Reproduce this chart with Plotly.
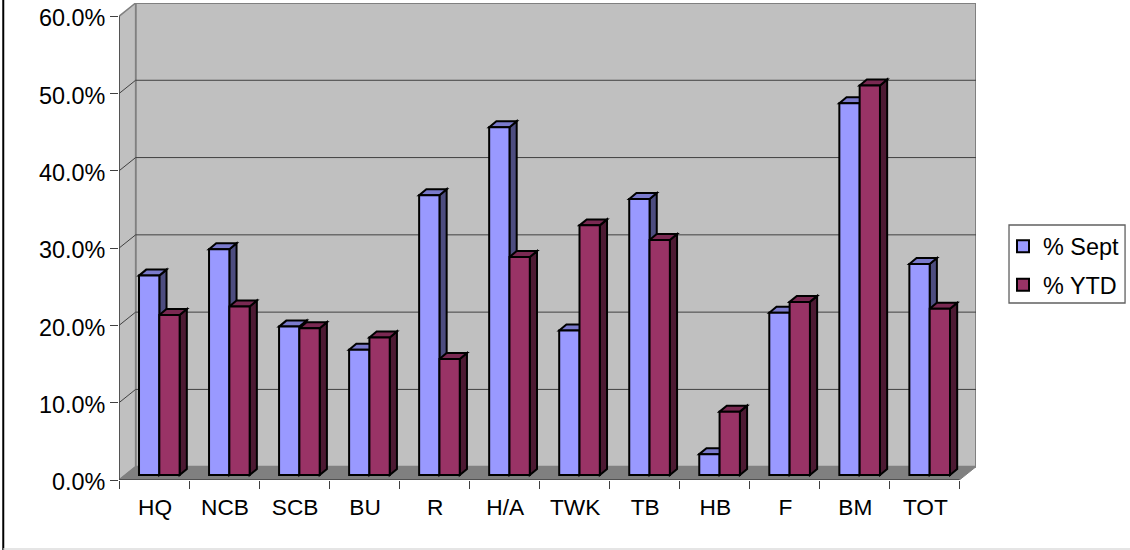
import plotly.graph_objects as go

categories = ["HQ", "NCB", "SCB", "BU", "R", "H/A", "TWK", "TB", "HB", "F", "BM", "TOT"]
pct_sept = [25.8, 29.2, 19.2, 16.2, 36.2, 45.0, 18.7, 35.7, 2.7, 21.0, 48.1, 27.3]
pct_ytd = [20.7, 21.8, 19.0, 17.8, 15.0, 28.2, 32.3, 30.4, 8.2, 22.4, 50.4, 21.5]
y_ticks = [0, 10, 20, 30, 40, 50, 60]
y_labels = ["0.0%", "10.0%", "20.0%", "30.0%", "40.0%", "50.0%", "60.0%"]

W, H = 1130, 550
L, R, T, B = 119.3, 154, 3, 70
PX_X = 70.0                 # pixels per category
PX_Y = (480 - 16) / 60.0    # pixels per percent
WALL_DX = 16.6 / PX_X
WALL_DY = 13.3 / PX_Y
BAR_W = 20.3 / PX_X
BAR_OFF = -15.0 / PX_X
BAR_DX = 7.2 / PX_X
BAR_DY = 6.0 / PX_Y
BASE = 5.0 / PX_Y

X0, X1 = -0.5, len(categories) - 0.5
Y_MAX = 60


def poly(pts, fill, line="#000000", width=2):
    path = "M" + " L".join(f"{x},{y}" for x, y in pts) + " Z"
    return dict(type="path", path=path, xref="x", yref="y", layer="below",
                fillcolor=fill, line=dict(color=line, width=width))


def seg(x0, y0, x1, y1, color="#404040", width=1.0):
    return dict(type="line", x0=x0, y0=y0, x1=x1, y1=y1, xref="x", yref="y",
                layer="below", line=dict(color=color, width=width))


shapes = []
# walls and floor
shapes.append(poly([(X0 + WALL_DX, WALL_DY), (X1 + WALL_DX, WALL_DY),
                    (X1 + WALL_DX, Y_MAX + WALL_DY), (X0 + WALL_DX, Y_MAX + WALL_DY)],
                   "#C0C0C0", "#808080", 2))
shapes.append(poly([(X0, 0), (X0 + WALL_DX, WALL_DY), (X0 + WALL_DX, Y_MAX + WALL_DY), (X0, Y_MAX)],
                   "#C0C0C0", "#808080", 1.5))
shapes.append(poly([(X0, 0), (X0 + WALL_DX, WALL_DY), (X1 + WALL_DX, WALL_DY), (X1, 0)],
                   "#808080", "#808080", 1))
# gridlines
for t in y_ticks[1:-1]:
    shapes.append(seg(X0, t, X0 + WALL_DX, t + WALL_DY))
    shapes.append(seg(X0 + WALL_DX, t + WALL_DY, X1 + WALL_DX, t + WALL_DY))
# bar side and top faces
for i, (a, b) in enumerate(zip(pct_sept, pct_ytd)):
    for j, (v, top, side) in enumerate([(a, "#7A7ACC", "#4D4D80"), (b, "#7A2952", "#4D1A33")]):
        x_l = i + BAR_OFF + j * BAR_W
        x_r = x_l + BAR_W
        y_t = BASE + v
        shapes.append(poly([(x_r, BASE), (x_r + BAR_DX, BASE + BAR_DY),
                            (x_r + BAR_DX, y_t + BAR_DY), (x_r, y_t)], side))
        shapes.append(poly([(x_l, y_t), (x_l + BAR_DX, y_t + BAR_DY),
                            (x_r + BAR_DX, y_t + BAR_DY), (x_r, y_t)], top))
# front axis lines
shapes.append(seg(X0, 0, X0, Y_MAX, "#404040", 1.5))
shapes.append(seg(X0, 0, X1, 0, "#404040", 1.5))
# outer frame
pw = W - L - R
ph = H - T - B
shapes.append(dict(type="line", xref="paper", yref="paper",
                   x0=(3.6 - L) / pw, x1=(3.6 - L) / pw, y0=-B / ph, y1=1 + T / ph,
                   line=dict(color="#000000", width=2)))
shapes.append(dict(type="line", xref="paper", yref="paper",
                   x0=(3.6 - L) / pw, x1=(W - L) / pw, y0=(480 - 549) / ph, y1=(480 - 549) / ph,
                   line=dict(color="#DDDDDD", width=1.5)))
# legend frame
shapes.append(dict(type="rect", xref="paper", yref="paper", layer="below",
                   x0=(1009 - L) / pw, x1=(1125 - L) / pw, y0=(480 - 303) / ph, y1=(480 - 225) / ph,
                   fillcolor="#FFFFFF", line=dict(color="#606060", width=1.3)))

fig = go.Figure()
for name, vals, col, off in [("% Sept", pct_sept, "#9999FF", BAR_OFF),
                             ("% YTD", pct_ytd, "#993366", BAR_OFF + BAR_W)]:
    fig.add_trace(go.Bar(name=name, x=categories, y=vals, base=BASE, width=BAR_W, offset=off,
                         legendgroup=name, marker=dict(color=col, line=dict(color="#000000", width=2))))

FAMILY = "Liberation Sans, Arial, sans-serif"
x_font = dict(family=FAMILY, size=22.7, color="#000000")
y_font = dict(family=FAMILY, size=23.4, color="#000000")
leg_font = dict(family=FAMILY, size=23.4, color="#000000")
fig.update_layout(
    width=W, height=H, margin=dict(l=L, r=R, t=T, b=B, pad=0, autoexpand=False),
    paper_bgcolor="#FFFFFF", plot_bgcolor="rgba(0,0,0,0)", barmode="overlay", font=x_font,
    shapes=shapes,
    xaxis=dict(type="category", categoryorder="array", categoryarray=categories,
               range=[X0, X1 + WALL_DX], tickson="boundaries", ticks="outside", ticklen=8,
               tickwidth=1, tickcolor="#404040", showgrid=False, zeroline=False, showline=False,
               ticklabelstandoff=11, ticklabelshift=1, tickfont=x_font, fixedrange=True),
    yaxis=dict(range=[0, Y_MAX + WALL_DY], tickvals=y_ticks, ticktext=y_labels, ticks="outside",
               ticklen=8, tickwidth=1, tickcolor="#404040", showgrid=False, zeroline=False,
               showline=False, ticklabelshift=2, tickfont=y_font, fixedrange=True),
    legend=dict(x=(1003 - L) / pw, y=(480 - 224.5) / ph, xanchor="left", yanchor="top",
                bgcolor="rgba(0,0,0,0)", borderwidth=0, font=leg_font,
                traceorder="grouped", tracegroupgap=5, itemclick=False, itemdoubleclick=False,
                entrywidth=75, entrywidthmode="pixels"),
)
fig.write_html("out.html", config={"displayModeBar": False},
               post_script="document.body.style.margin='0';document.documentElement.style.overflow='hidden';")
